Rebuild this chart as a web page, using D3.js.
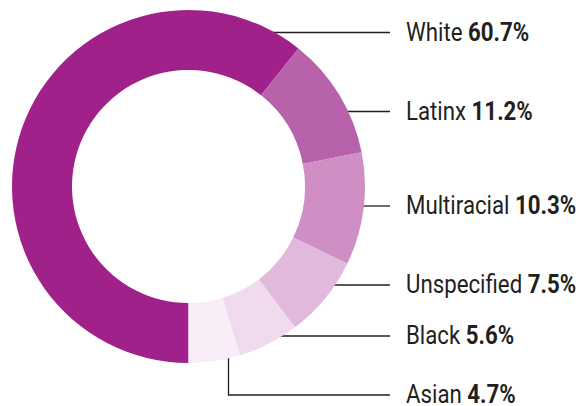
<!DOCTYPE html>
<html lang="en">
	<head>
		<meta charset="UTF-8">
		<title>Donut</title>
		<style>
			body, html {
				margin: 0;
				background-color: #ffffff;
			}
			text {
				font-family: Roboto, "Liberation Sans", sans-serif;
				fill: #231f20;
			}
		</style>
	</head>
	<body>
		<svg id="svg" width="581" height="406"></svg>

		<script src="https://d3js.org/d3.v7.min.js"></script>
		<script>
			// data
			const groups = ['White', 'Latinx', 'Multiracial', 'Unspecified', 'Black', 'Asian']
			const shares = [60.7, 11.2, 10.3, 7.5, 5.6, 4.7]
			const colors = ['#a0218a', '#b862ac', '#cf8fc4', '#e0b9dc', '#efdaee', '#f9eef7']

			// label layout (leader line heights)
			const labelY = [32.5, 111.5, 206, 285, 336, 395]

			const cx = 188.5, cy = 186.5, R = 176.5, r = 116.5
			const lineEnd = 390, textX = 406

			const svg = d3.select('#svg')

			const pie = d3.pie().sort(null).startAngle(Math.PI).endAngle(3 * Math.PI)
			const arc = d3.arc().innerRadius(r).outerRadius(R)
			const arcs = pie(shares)

			// leader lines first, under the ring
			const lines = svg.append('g')
			groups.forEach((g, i) => {
				const y = labelY[i]
				let path
				if (g === 'Asian') {
					const ex = cx + 40
					const ey = cy + Math.sqrt(R * R - 40 * 40) - 1
					path = `M${ex},${ey}V${y}H${lineEnd}`
				} else {
					const dy = y - cy
					const x0 = cx + Math.sqrt(R * R - dy * dy) - 4
					path = `M${x0},${y}H${lineEnd}`
				}
				lines.append('path')
					.attr('d', path)
					.attr('fill', 'none')
					.attr('stroke', '#231f20')
					.attr('stroke-width', 1.3)
			})

			svg.append('g')
				.attr('transform', `translate(${cx},${cy})`)
				.selectAll('path')
				.data(arcs)
				.enter()
				.append('path')
				.attr('d', arc)
				.attr('fill', (d, i) => colors[i])

			const labels = svg.append('g')
			groups.forEach((g, i) => {
				const t = labels.append('text')
					.attr('transform', `translate(${textX},${labelY[i] + 8.3}) scale(0.89,1)`)
					.attr('font-size', 25)
				t.append('tspan').text(g + ' ')
				t.append('tspan').attr('font-weight', 'bold').text(shares[i].toFixed(1) + '%')
			})
		</script>
	</body>
</html>
